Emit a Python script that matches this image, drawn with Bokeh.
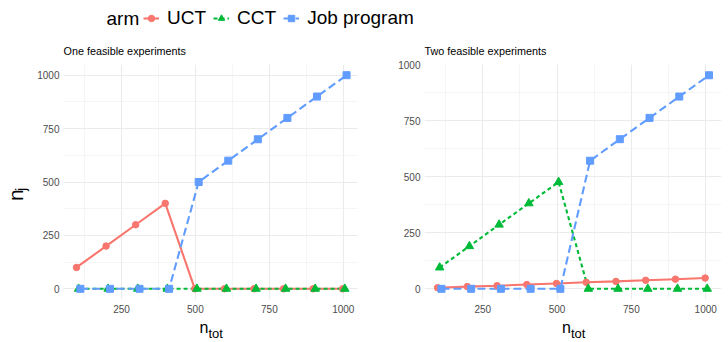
import math
from bokeh.plotting import figure
from bokeh.models import (Range1d, FixedTicker, Label, Legend, LegendItem,
                          ColumnDataSource, Plot, Line, Scatter)
from bokeh.layouts import column, row
from bokeh.transform import dodge
from bokeh.embed import file_html
from bokeh.resources import INLINE

# ---------------- data ----------------
n_tot = [100, 200, 300, 400, 500, 600, 700, 800, 900, 1000]

one_uct = [100, 200, 300, 400, 0, 0, 0, 0, 0, 0]
one_cct = [0, 0, 0, 0, 0, 0, 0, 0, 0, 0]
one_job = [0, 0, 0, 0, 500, 600, 700, 800, 900, 1000]

two_uct = [5, 10, 14, 19, 24, 29, 33, 38, 43, 48]
two_cct = [95, 190, 286, 381, 476, 0, 0, 0, 0, 0]
two_job = [0, 0, 0, 0, 0, 571, 667, 762, 857, 952]

arms = ["UCT", "CCT", "Job program"]
legend_title = "arm"
panel_titles = ["One feasible experiments", "Two feasible experiments"]
x_ticks = [250, 500, 750, 1000]
x_minor = [125, 375, 625, 875]
y_ticks = [0, 250, 500, 750, 1000]
y_minor = [125, 375, 625, 875]

# ---------------- styles ----------------
FONT = "Liberation Sans"
COLORS = {"UCT": "#F8766D", "CCT": "#00BA38", "Job program": "#619CFF"}
DASH = {"UCT": "solid", "CCT": "4 3", "Job program": "8 4"}
MARKER = {"UCT": "circle", "CCT": "triangle", "Job program": "square"}
MSIZE = {"UCT": 6.5, "CCT": 8.5, "Job program": 7}
DODGE = {"UCT": -2, "CCT": 5, "Job program": 11}

# layout geometry (px)
TOTAL_W = 722
LEG_H = 30
PANEL_H = 286
XLAB_H = 24
YLAB_W = 32
LEFT_W = 328
RIGHT_W = TOTAL_W - YLAB_W - LEFT_W   # 362
PANEL_TOP = 34
PANEL_BOTTOM = 17


def strip(w, h):
    s = Plot(width=w, height=h, x_range=Range1d(0, w), y_range=Range1d(0, h),
             min_border=0, min_border_left=0, min_border_right=0,
             min_border_top=0, min_border_bottom=0, title=None,
             toolbar_location=None, output_backend="svg",
             outline_line_color=None, background_fill_color="white",
             border_fill_color="white")
    return s


def make_panel(title, uct, cct, job, x_end, y_start, y_end, w, bl, br):
    x0 = 54
    p = figure(width=w, height=PANEL_H, output_backend="svg",
               toolbar_location=None,
               x_range=Range1d(x0, x_end), y_range=Range1d(y_start, y_end),
               min_border_left=bl, min_border_right=br,
               min_border_top=PANEL_TOP, min_border_bottom=PANEL_BOTTOM)
    p.outline_line_color = None
    p.background_fill_color = "white"
    p.border_fill_color = "white"
    p.title.text = title
    p.title.text_font = FONT
    p.title.text_font_size = "10.8px"
    p.title.text_font_style = "normal"
    p.title.text_color = "#000000"
    p.title.align = "left"
    p.title.standoff = 15

    p.xaxis.ticker = FixedTicker(ticks=x_ticks, minor_ticks=x_minor)
    p.yaxis.ticker = FixedTicker(ticks=y_ticks, minor_ticks=y_minor)
    for ax in (p.xaxis[0], p.yaxis[0]):
        ax.axis_line_color = None
        ax.major_tick_line_color = None
        ax.minor_tick_line_color = None
        ax.major_tick_out = 0
        ax.major_tick_in = 0
        ax.minor_tick_out = 0
        ax.major_label_text_font = FONT
        ax.major_label_text_font_size = "10px"
        ax.major_label_text_color = "#4D4D4D"
    p.xaxis.major_label_standoff = 5
    p.yaxis.major_label_standoff = 4

    for g in (p.xgrid[0], p.ygrid[0]):
        g.grid_line_color = "#EBEBEB"
        g.grid_line_width = 1.1
        g.minor_grid_line_color = "#EFEFEF"
        g.minor_grid_line_width = 0.6

    src = ColumnDataSource(dict(x=n_tot, UCT=uct, CCT=cct, JOB=job))
    cols = {"UCT": "UCT", "CCT": "CCT", "Job program": "JOB"}
    for a in arms:
        p.line(x=dodge("x", DODGE[a]), y=cols[a], source=src,
               line_color=COLORS[a], line_width=2.1, line_dash=DASH[a])
    for a in arms:
        p.scatter(x=dodge("x", DODGE[a]), y=cols[a], source=src,
                  marker=MARKER[a], size=MSIZE[a],
                  fill_color=COLORS[a], line_color=COLORS[a])
    return p


left = make_panel(panel_titles[0], one_uct, one_cct, one_job,
                  1048, -50, 1050, LEFT_W, 31, 3)
right = make_panel(panel_titles[1], two_uct, two_cct, two_job,
                   1053, -47.6, 1000, RIGHT_W, 64, 1)

# ---------------- legend strip ----------------
lg = strip(TOTAL_W, LEG_H)
items = []
nan = float("nan")
for a in arms:
    lsrc = ColumnDataSource(dict(x=[nan], y=[nan]))
    lr = lg.add_glyph(lsrc, Line(x="x", y="y", line_color=COLORS[a],
                                 line_width=2.1, line_dash=DASH[a]))
    sr = lg.add_glyph(lsrc, Scatter(x="x", y="y", marker=MARKER[a],
                                    size=MSIZE[a] - 1, fill_color=COLORS[a],
                                    line_color=COLORS[a]))
    items.append(LegendItem(label=a, renderers=[lr, sr]))
leg_mid = 12
legend = Legend(items=items, orientation="horizontal",
                location=(143, leg_mid - 11),
                padding=0, margin=0, border_line_color=None,
                background_fill_alpha=0, label_text_font=FONT,
                label_text_font_size="19px", label_text_color="black",
                glyph_width=16, glyph_height=22, label_height=22,
                label_standoff=8, spacing=7)
lg.add_layout(legend)
lg.add_layout(Label(x=106, y=leg_mid, text=legend_title, text_font=FONT,
                    text_font_size="19px", text_align="left",
                    text_baseline="middle", text_color="black"))

# ---------------- y-axis title strip  n_j ----------------
yl = strip(YLAB_W, PANEL_H)
yl.add_layout(Label(x=14.5, y=120, text="n", angle=math.pi / 2,
                    text_font=FONT, text_font_size="21px", text_align="left",
                    text_baseline="middle", text_color="black"))
yl.add_layout(Label(x=19.5, y=132, text="j", angle=math.pi / 2,
                    text_font=FONT, text_font_size="15px", text_align="left",
                    text_baseline="middle", text_color="black"))

# ---------------- x-axis title strip  n_tot ----------------
xl = strip(TOTAL_W, XLAB_H)
left_frame_c = YLAB_W + 31 + (LEFT_W - 31 - 3) / 2
right_frame_c = YLAB_W + LEFT_W + 64 + (RIGHT_W - 64 - 1) / 2
for c in (left_frame_c, right_frame_c):
    xl.add_layout(Label(x=c - 11, y=13, text="n", text_font=FONT,
                        text_font_size="16px", text_align="left",
                        text_baseline="middle", text_color="black"))
    xl.add_layout(Label(x=c - 2, y=7, text="tot", text_font=FONT,
                        text_font_size="13px", text_align="left",
                        text_baseline="middle", text_color="black"))

layout = column(lg, row(yl, left, right), xl)
open("out.html", "w").write(file_html(layout, INLINE))
